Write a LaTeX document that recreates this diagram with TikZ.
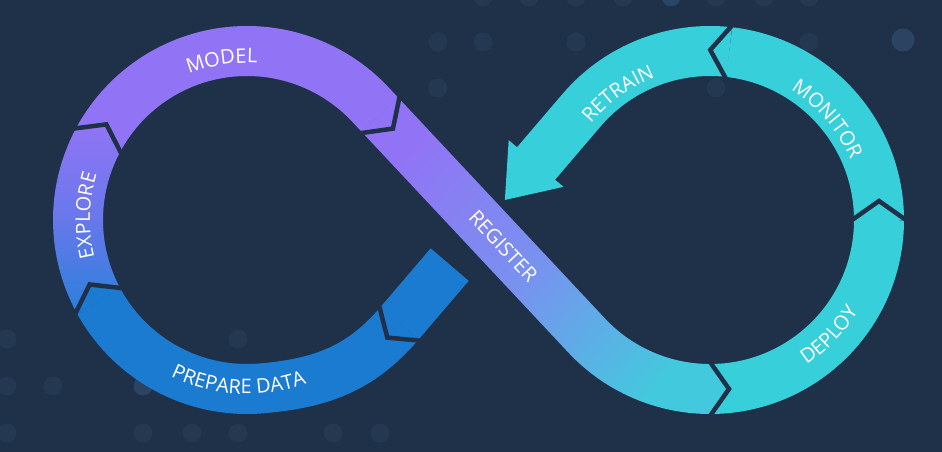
\documentclass[tikz,border=0pt]{standalone}
\usepackage{fontspec}
\setmainfont{Open Sans}
\usetikzlibrary{calc,decorations.text}
\definecolor{bgc}{HTML}{1F3049}
\definecolor{purp}{HTML}{9174F5}
\definecolor{blu}{HTML}{1B7BD1}
\definecolor{cya}{HTML}{37CFD9}
\definecolor{regmid}{HTML}{7892EF}
\definecolor{regend}{HTML}{43C9DD}
\definecolor{expmid}{HTML}{6878EA}
\definecolor{expbot}{HTML}{2A80DB}
\definecolor{dotc}{HTML}{253851}
\definecolor{dotb}{HTML}{2C4461}
\newcommand\lblfont{\fontsize{20}{24}\selectfont\color{white}}
\begin{document}
\begin{tikzpicture}[x=1pt,y=1pt,
  band/.style={line width=50pt},
  gapline/.style={draw=bgc, line width=4.5pt, line join=miter},
  lbl/.style={decorate, decoration={text along path, text align=center, text={|\lblfont|#1}}}
  ]
\fill[bgc] (0,0) rectangle (942,452);
\useasboundingbox (0,0) rectangle (942,452);
% background dots
\foreach \x/\y in {483/455,529/455,576/455,623/455,716/455,764/455,809/455,
  438/410,483/410,576/410,809/410,438/364,716/364,
  7/113,238/113,7/66,53/66,7/19,143/19,192/19,238/19,333/19,380/19}
  \fill[dotc] (\x,\y) circle (9.5);
\fill[dotb] (671,455) circle (9.5);
\fill[dotb] (903,412) circle (11.5);
\fill[dotb] (143,66) circle (9.5);
% geometry
\coordinate (C) at (247,232);
\coordinate (R) at (710,232);
\coordinate (M) at (478.5,232);
\coordinate (T1) at ($(C)+(43.1:169)$);
\coordinate (J1) at ($(T1)+(-46.9:14)$);
\coordinate (TR) at ($(R)+(139.5:169)$);
\coordinate (AB) at ($(TR)+(229.5:70)$);
\coordinate (AT) at ($(TR)+(229.5:118)$);
\coordinate (SE) at ($(TR)+(229.5:203)$);
\coordinate (J0) at ($(TR)+(229.5:280)$);
\coordinate (P3) at ($(C)+(275:169)$);
% RETRAIN
\draw[band,cya] ($(R)+(83.5:169)$) arc[start angle=83.5,end angle=139.5,radius=169] -- ($(TR)+(229.5:72)$);
\fill[cya] ($(AB)+(139.5:36)$) -- (AT) -- ($(AB)+(319.5:36)$) -- cycle;
% MONITOR
\draw[band,cya] ($(R)+(0:169)$) arc[start angle=0,end angle=83.5,radius=169];
\fill[cya] ($(R)+(83.5:194)$) -- ($(R)+(83.5:169)+(173.5:19)$) -- ($(R)+(83.5:144)$) -- cycle;
% DEPLOY
\draw[band,cya] ($(R)+(270:169)$) arc[start angle=270,end angle=360,radius=169];
\fill[cya] ($(R)+(0:194)$) -- ($(R)+(0:169)+(90:19)$) -- ($(R)+(0:144)$) -- cycle;
% REGISTER
\shade[top color=purp, bottom color=regend, middle color=regmid, shading angle=49]
  ($(J1)+(43.1:25)$) -- ($(R)+(223.1:144)$) arc[start angle=223.1,end angle=270,radius=144]
  -- ($(R)+(270:169)+(0:19)$) -- ($(R)+(270:194)$) arc[start angle=270,end angle=223.1,radius=194]
  -- ($(J1)+(223.1:25)$) -- cycle;
% MODEL
\draw[band,purp] ($(C)+(152.2:169)$) arc[start angle=152.2,end angle=43.1,radius=169] -- (J1);
\fill[purp] ($(J1)+(43.1:25)$) -- ($(J1)+(-46.9:19)$) -- ($(J1)+(223.1:25)$) -- cycle;
% EXPLORE
\shade[top color=purp, bottom color=expbot, middle color=expmid]
  ($(C)+(208.7:194)$) arc[start angle=208.7,end angle=152.2,radius=194]
  -- ($(C)+(152.2:169)+(62.2:19)$) -- ($(C)+(152.2:144)$)
  arc[start angle=152.2,end angle=208.7,radius=144] -- cycle;
% PREPARE DATA
\draw[band,blu] (J0) .. controls ($(J0)+(229.5:60)$) and ($(P3)+(5:60)$) .. (P3)
  arc[start angle=275,end angle=208.7,radius=169];
\fill[blu] ($(C)+(208.7:194)$) -- ($(C)+(208.7:169)+(118.7:19)$) -- ($(C)+(208.7:144)$) -- cycle;
% stub
\draw[band,blu] (SE) -- (J0);
\fill[blu] ($(J0)+(139.5:25)$) -- ($(J0)+(229.5:19)$) -- ($(J0)+(319.5:25)$) -- cycle;
% chevron gaps
\draw[gapline] ($(J0)+(139.5:27)$) -- ($(J0)+(229.5:19)$) -- ($(J0)+(319.5:27)$);
\draw[gapline] ($(C)+(208.7:196)$) -- ($(C)+(208.7:169)+(118.7:19)$) -- ($(C)+(208.7:142)$);
\draw[gapline] ($(C)+(152.2:196)$) -- ($(C)+(152.2:169)+(62.2:19)$) -- ($(C)+(152.2:142)$);
\draw[gapline] ($(J1)+(43.1:27)$) -- ($(J1)+(-46.9:19)$) -- ($(J1)+(223.1:27)$);
\draw[gapline] ($(R)+(270:196)$) -- ($(R)+(270:169)+(0:19)$) -- ($(R)+(270:142)$);
\draw[gapline] ($(R)+(0:196)$) -- ($(R)+(0:169)+(90:19)$) -- ($(R)+(0:142)$);
\draw[gapline] ($(R)+(83.5:196)$) -- ($(R)+(83.5:169)+(173.5:19)$) -- ($(R)+(83.5:142)$);
% labels
\path[lbl=MODEL] ($(C)+(139:157)$) arc[start angle=139,end angle=59,radius=157];
\path[lbl=EXPLORE] ($(C)+(223.4:157)$) arc[start angle=223.4,end angle=133.4,radius=157];
\path[lbl=PREPARE DATA] ($(C)+(217:174)$) arc[start angle=217,end angle=317,radius=174];
\path[lbl=RETRAIN] ($(R)+(166:153)$) arc[start angle=166,end angle=86,radius=153];
\path[lbl=MONITOR] ($(R)+(80.7:153)$) arc[start angle=80.7,end angle=0.7,radius=153];
\path[lbl=DEPLOY] ($(R)+(-84:174)$) arc[start angle=-84,end angle=-4,radius=174];
\path[lbl=REGISTER, decoration={raise=-7pt}] ($(M)+(133.1:64)$) -- ($(M)+(-46.9:136)$);
\end{tikzpicture}
\end{document}
